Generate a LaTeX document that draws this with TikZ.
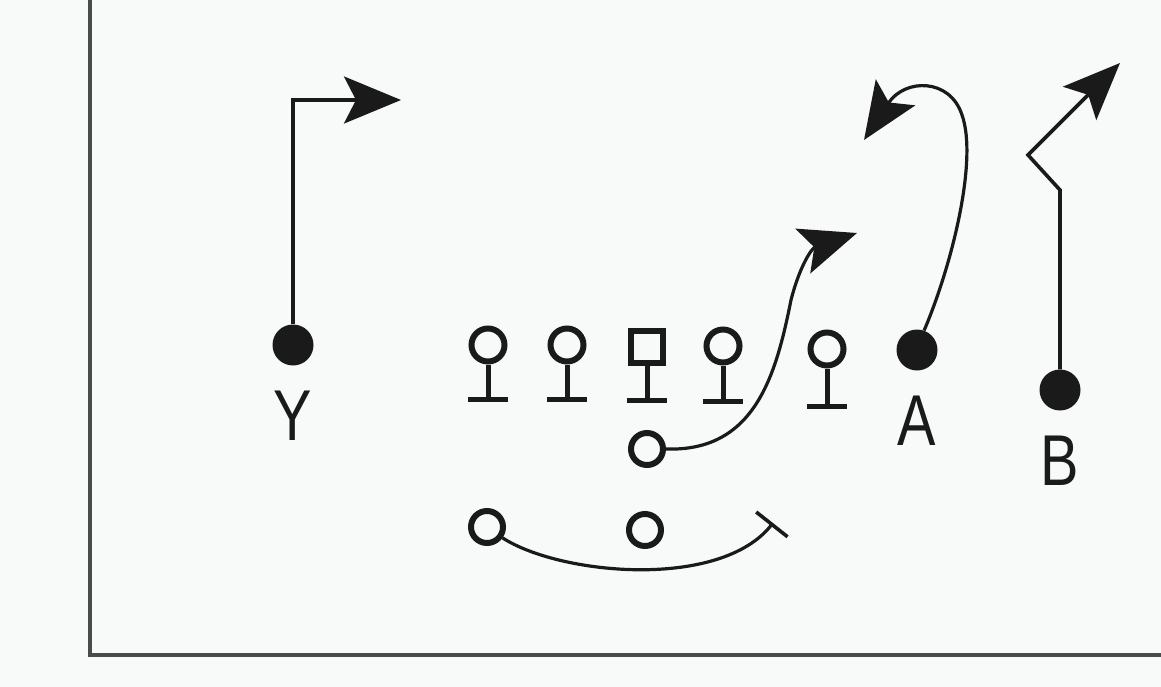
\documentclass[tikz,border=0pt]{standalone}
\usepackage{fontspec}
\setmainfont{Liberation Sans}
\usetikzlibrary{arrows.meta}
\definecolor{bgc}{HTML}{F8FAFA}
\definecolor{ink}{HTML}{1A1A1A}
\definecolor{framec}{HTML}{4A4A4A}
\begin{document}
\begin{tikzpicture}[x=1pt,y=-1pt,
  lineman/.style={circle,draw=ink,line width=6pt,minimum size=33pt,inner sep=0pt},
  center/.style={rectangle,draw=ink,line width=6pt,minimum size=32pt,inner sep=0pt},
  back/.style={circle,draw=ink,line width=6pt,minimum size=32pt,inner sep=0pt},
  recv/.style={circle,fill=ink,minimum size=41pt,inner sep=0pt},
  stem/.style={draw=ink,line width=5pt},
  route/.style={draw=ink,line width=3.6pt},
  curveroute/.style={draw=ink,line width=3.2pt},
  bigtip/.style={-{Stealth[length=57pt,width=47pt,inset=12pt]}},
  lbl/.style={inner sep=0pt,text depth=0pt,font=\fontsize{72}{72}\selectfont,text=ink,xscale=0.8}]
\fill[bgc] (0,0) rectangle (1161,687);
\useasboundingbox (0,0) rectangle (1161,687);
% frame
\draw[framec,line width=4pt] (90,-5) -- (90,655) -- (1166,655);
% linemen
\node[lineman] (o1) at (488,345) {};
\node[lineman] (o2) at (567,345) {};
\node[center]  (c)  at (647,347) {};
\node[lineman] (o4) at (723,346) {};
\node[lineman] (o5) at (827,349) {};
\foreach \n/\x/\y in {o1/488/399,o2/567/399,c/647/400,o4/723/401,o5/827/406}{
  \draw[stem] (\n.south) -- (\x,\y);
  \draw[stem] (\x-20,\y) -- (\x+20,\y);
}
% backs
\node[back] (qb)  at (647,449) {};
\node[back] (hb1) at (487,527) {};
\node[back] (hb2) at (645,530) {};
% receivers
\node[recv] (Y) at (293,345) {};
\node[recv] (A) at (917,350) {};
\node[recv] (B) at (1060,390) {};
\node[lbl] (Yl) at (293,416) {Y};
\node[lbl] (Al) at (917,421) {A};
\node[lbl] (Bl) at (1060,461) {B};
% route end points
\coordinate (Yend) at (401,100);
\coordinate (Aend) at (864,140);
\coordinate (Bend) at (1120,63);
\coordinate (Qend) at (857,233);
\coordinate (Hend) at (773,523);
% routes
\draw[route,bigtip] (Y.north) -- (293,100) -- (Yend);
\draw[route,bigtip] (B.north) -- (1060,190) -- (1028,155) -- (Bend);
\draw[curveroute,bigtip] (A.70) .. controls (952,265) and (978,160) .. (962,115)
  .. controls (950,78) and (905,78) .. (Aend);
\draw[curveroute,bigtip] (qb.east) .. controls (755,452) and (776,375) .. (791,300)
  .. controls (800,265) and (812,248) .. (Qend);
\draw[curveroute,-{Bar[width=40pt,line width=3.6pt]}] (hb1.-35) .. controls (560,575) and (720,590) .. (Hend);
\end{tikzpicture}
\end{document}
